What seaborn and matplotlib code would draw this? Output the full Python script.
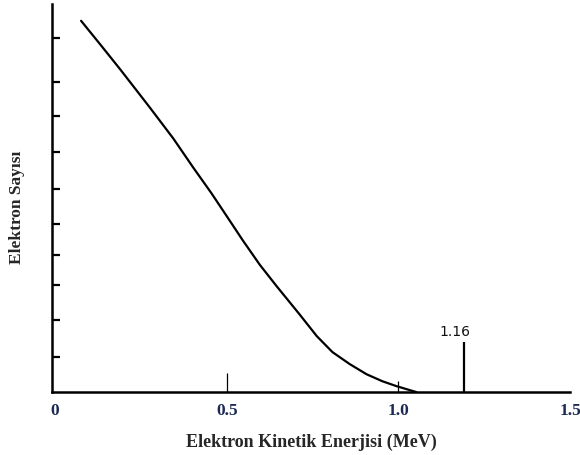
import matplotlib
matplotlib.use("Agg")
import matplotlib.pyplot as plt
import seaborn as sns
import pandas as pd

# Beta spectrum curve
energy = [0.0756, 0.131, 0.189, 0.276, 0.344, 0.402, 0.4555, 0.499, 0.547, 0.596,
          0.644, 0.712, 0.762, 0.808, 0.858, 0.907, 0.953, 0.994, 1.052]
count = [10.61, 9.94, 9.23, 8.13, 7.25, 6.42, 5.68, 5.04, 4.33, 3.64,
         3.04, 2.22, 1.60, 1.14, 0.80, 0.51, 0.31, 0.17, 0.0]

# Left axis tick positions (unlabeled)
y_ticks = [1.0, 2.06, 3.06, 3.91, 4.8, 5.8, 6.86, 7.89, 8.86, 10.11]

# x axis tick labels
x_ticks = [0, 0.5, 1.0, 1.5]
x_tick_labels = ["0", "0.5", "1.0", "1.5"]

# small marks on x axis
mark_x = [0.5, 1.0]
mark_h = [0.54, 0.31]

# gamma line
spike_x = 1.19
spike_h = 1.43
spike_label = "1.16"

sns.set_style("white")
plt.rcParams['font.family'] = ['Liberation Serif', 'DejaVu Serif']

fig = plt.figure(figsize=(5.8, 4.56), dpi=100)
ax = fig.add_axes([0.0897, 0.138, 0.983 - 0.0897, 0.989 - 0.138])

df = pd.DataFrame({"E": energy, "N": count})
sns.lineplot(data=df, x="E", y="N", ax=ax, color="black", linewidth=1.6)

ax.vlines(mark_x, 0, mark_h, color="black", linewidth=0.9)
ax.vlines([spike_x], 0, [spike_h], color="black", linewidth=1.6)
ax.text(spike_x - 0.025, spike_h + 0.12, spike_label, ha="center", va="bottom",
        fontsize=10, family=["DejaVu Sans"], color="#111111")

ax.set_xlim(-0.009, 1.5)
ax.set_ylim(0, 11.09)

ax.set_xticks(x_ticks)
ax.set_xticklabels(x_tick_labels, fontsize=12.5, fontweight="bold", color="#1c2a55")
ax.set_yticks(y_ticks)
ax.set_yticklabels([])
ax.tick_params(axis="x", length=0, pad=7)
ax.tick_params(axis="y", direction="in", length=6, width=1.6, color="black", left=True)

for s in ["top", "right"]:
    ax.spines[s].set_visible(False)
for s in ["left", "bottom"]:
    ax.spines[s].set_color("black")
    ax.spines[s].set_linewidth(1.8)

ax.set_xlabel("Elektron Kinetik Enerjisi (MeV)", fontsize=13, fontweight="bold", labelpad=11)
ax.set_ylabel("Elektron Sayısı", fontsize=12.5, fontweight="bold")
ax.yaxis.set_label_coords(-0.052, 0.479)

fig.savefig("out.png", dpi=100)
